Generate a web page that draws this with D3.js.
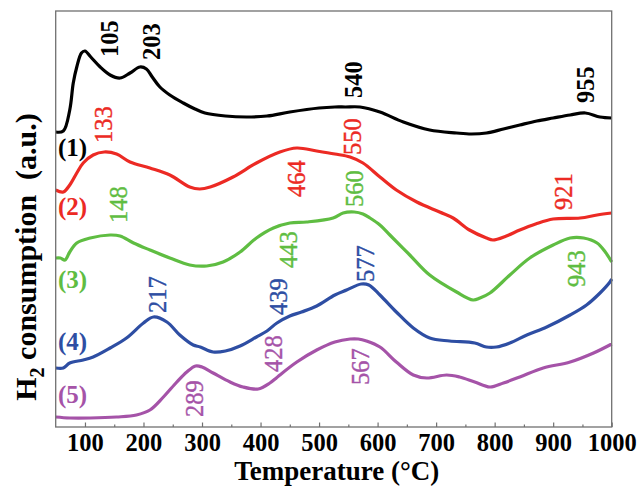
<!DOCTYPE html>
<html>
<head>
<meta charset="utf-8">
<script src="https://cdn.jsdelivr.net/npm/d3@7"></script>
<style>
  body { margin: 0; background: #fff; }
  text { font-family: "Liberation Serif", "Times New Roman", serif; }
</style>
</head>
<body>
<div class="chart"></div>
<script>
var width = 641
var height = 490
var margin = {left: 55.7, right: 29.3, top: 11, bottom: 63};

// temperature (°C) vs H2 signal (a.u., curves already offset as in the figure)
var series1 = [[50,29.5],[63,29.6],[74,31.7],[80,34.4],[86,36.0],[94,37.4],[100,37.6],[110,37.0],[126,36.0],[143,35.2],[160,34.9],[177,35.4],[194,36.0],[205,35.8],[215,35.0],[228,34.0],[245,33.2],[268,32.4],[288,31.8],[305,31.4],[340,31.1],[376,31.0],[411,31.1],[450,31.5],[500,31.9],[527,32.0],[545,32.0],[570,32.0],[604,31.5],[644,30.5],[689,29.7],[735,29.4],[760,29.3],[786,29.4],[815,29.8],[843,30.2],[872,30.6],[900,30.9],[929,31.2],[955,31.4],[980,31.0],[1000,30.9]];
var series2 = [[50,23.7],[63,23.5],[74,24.2],[86,25.4],[97,26.4],[114,27.2],[133,27.5],[154,27.3],[177,26.5],[211,25.9],[245,25.2],[279,24.0],[296,23.8],[314,24.0],[353,25.0],[393,26.4],[433,27.5],[462,27.9],[496,27.6],[527,27.3],[553,27.0],[575,26.4],[604,25.0],[632,23.7],[667,22.5],[706,21.5],[729,20.9],[757,19.7],[786,18.9],[797,18.7],[820,19.1],[843,19.7],[870,20.3],[900,20.8],[946,20.9],[975,21.2],[1000,21.4]];
var series3 = [[50,16.9],[58,16.9],[66,16.7],[74,17.5],[86,18.4],[109,18.9],[143,19.2],[160,19.1],[183,18.4],[211,17.7],[245,16.9],[279,16.2],[308,16.1],[336,16.5],[365,17.5],[393,18.9],[422,19.9],[450,20.4],[479,20.5],[524,20.9],[541,21.4],[560,21.5],[575,21.3],[587,20.9],[604,20.2],[621,19.2],[655,17.2],[689,15.2],[735,13.5],[763,12.7],[775,12.9],[792,13.4],[826,15.2],[860,16.9],[900,18.2],[929,18.9],[952,18.9],[975,18.4],[989,17.5],[1000,16.5]];
var series4 = [[50,5.9],[63,5.9],[74,6.4],[97,6.7],[114,7.0],[143,7.9],[171,8.9],[200,10.4],[217,11.0],[240,10.5],[262,9.2],[285,8.2],[297,8.0],[319,7.5],[340,7.6],[365,8.1],[393,9.0],[411,9.6],[428,10.4],[450,11.1],[470,11.5],[496,12.1],[527,13.2],[547,13.7],[572,14.3],[585,14.2],[604,13.2],[632,11.5],[661,9.9],[689,8.9],[723,8.6],[766,8.4],[786,8.0],[803,8.0],[826,8.4],[855,9.2],[889,10.0],[929,11.2],[957,12.2],[980,13.4],[997,14.5],[1000,14.8]];
var series5 = [[50,1.0],[74,0.9],[109,0.9],[154,1.0],[188,1.2],[211,1.7],[234,3.0],[257,4.5],[274,5.5],[289,6.1],[300,6.0],[319,5.4],[348,4.5],[370,4.0],[396,3.8],[416,4.4],[427,4.9],[433,5.2],[462,6.5],[496,7.7],[527,8.5],[553,8.8],[567,8.8],[581,8.6],[604,8.0],[632,6.5],[661,5.2],[684,4.9],[718,5.2],[740,5.0],[766,4.5],[792,4.0],[815,4.4],[843,5.0],[883,5.9],[929,6.5],[969,7.4],[1000,8.3]];
var seriesData = [series1, series2, series3, series4, series5];
var seriesNames = ["(1)", "(2)", "(3)", "(4)", "(5)"];
var seriesNameLevel = [27.1, 21.2, 13.9, 7.7, 2.4];
var colors = ["#000000", "#ec2a24", "#5fbd42", "#2e4ea3", "#a553a8"];

// peak annotations: label, temperature for x, level (a.u.) where the text begins
var peakLabels = [
  [["105", 143, 37.0], ["203", 215, 36.7], ["540", 559, 32.9], ["955", 956, 32.4]],
  [["133", 132, 28.4], ["464", 462, 23.0], ["550", 558, 27.2], ["921", 918, 21.7]],
  [["148", 158, 20.4], ["443", 448, 15.9], ["560", 561, 22.0], ["943", 940, 14.0]],
  [["217", 225, 11.4], ["439", 431, 11.2], ["577", 580, 14.5]],
  [["289", 288, 1.0], ["428", 423, 5.5], ["567", 571, 4.2]]
];
var xTicks = [100, 200, 300, 400, 500, 600, 700, 800, 900, 1000];
var xMinor = [150, 250, 350, 450, 550, 650, 750, 850, 950];

var svg = d3.select(".chart").append("svg")
    .attr("width", width)
    .attr("height", height);

var x = d3.scaleLinear().domain([50, 1000]).range([margin.left, width - margin.right]);
var y = d3.scaleLinear().domain([0, 41.6]).range([height - margin.bottom, margin.top]);

var line = d3.line()
    .x(function(d) { return x(d[0]); })
    .y(function(d) { return y(d[1]); })
    .curve(d3.curveCatmullRom.alpha(0.5));

svg.selectAll(".curve")
    .data(seriesData)
    .enter()
    .append("path")
    .attr("class", "curve")
    .attr("d", line)
    .attr("fill", "none")
    .attr("stroke", function(d, i) { return colors[i]; })
    .attr("stroke-width", 3.2)
    .attr("stroke-linejoin", "round");

// frame
svg.append("rect")
    .attr("x", x(50))
    .attr("y", y(41.6))
    .attr("width", x(1000) - x(50))
    .attr("height", y(0) - y(41.6))
    .attr("fill", "none")
    .attr("stroke", "#707070")
    .attr("stroke-width", 1.3);

// x axis, ticks pointing in
var xAxis = svg.append("g")
    .attr("transform", "translate(0," + y(0) + ")")
    .call(d3.axisBottom(x).tickValues(xTicks).tickSize(-4.5).tickPadding(7).tickFormat(d3.format("d")));
xAxis.select(".domain").remove();
xAxis.selectAll("line").attr("stroke", "#707070").attr("stroke-width", 1.2);
xAxis.selectAll("text")
    .attr("fill", "#000")
    .style("font-size", "24.5px")
    .style("font-weight", "bold")
    .style("font-family", "'Liberation Serif', serif");

var xAxisMinor = svg.append("g")
    .attr("transform", "translate(0," + y(0) + ")")
    .call(d3.axisBottom(x).tickValues(xMinor).tickSize(-2.5).tickFormat(""));
xAxisMinor.select(".domain").remove();
xAxisMinor.selectAll("line").attr("stroke", "#707070").attr("stroke-width", 1.2);

svg.append("text")
    .attr("x", (x(50) + x(1000)) / 2 + 3)
    .attr("y", 480)
    .attr("text-anchor", "middle")
    .style("font-size", "27px")
    .style("font-weight", "bold")
    .text("Temperature (°C)");

var yTitle = svg.append("text")
    .attr("transform", "translate(35.5," + 257 + ") rotate(-90)")
    .attr("text-anchor", "middle")
    .style("font-size", "30px")
    .style("font-weight", "bold")
    .attr("xml:space", "preserve");
yTitle.append("tspan").text("H");
yTitle.append("tspan").attr("dy", 8).style("font-size", "20px").text("2");
yTitle.append("tspan").attr("dy", -8).text(" consumption\u00a0\u00a0(a.u.)");

// series names
svg.selectAll(".name")
    .data(seriesNames)
    .enter()
    .append("text")
    .attr("class", "name")
    .attr("x", 58)
    .attr("y", function(d, i) { return y(seriesNameLevel[i]); })
    .attr("fill", function(d, i) { return colors[i]; })
    .style("font-size", "25px")
    .style("font-weight", "bold")
    .text(function(d) { return d; });

// peak labels: black ones bold, coloured ones regular
peakLabels.forEach(function(group, i) {
  svg.selectAll(".peak" + i)
      .data(group)
      .enter()
      .append("text")
      .attr("class", "peak" + i)
      .attr("transform", function(d) { return "translate(" + x(d[1]) + "," + y(d[2]) + ") rotate(-90)"; })
      .attr("dy", "0.33em")
      .attr("fill", colors[i])
      .style("font-size", "24.5px")
      .style("font-weight", i === 0 ? "bold" : "normal")
      .style("stroke", i === 0 ? "none" : colors[i])
      .style("stroke-width", 0.4)
      .text(function(d) { return d[0]; });
});
</script>
</body>
</html>
